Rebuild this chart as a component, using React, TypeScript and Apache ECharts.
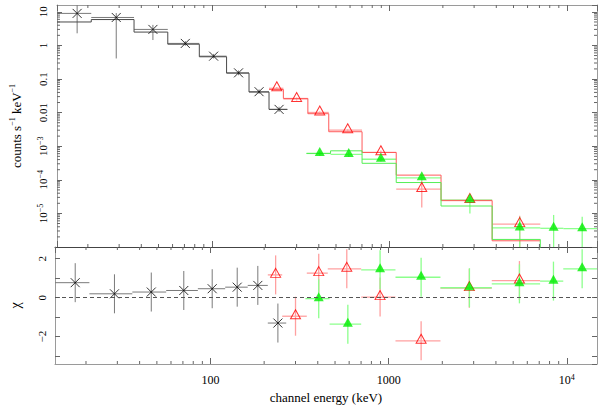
import React, { useEffect, useRef } from 'react';
import * as echarts from 'echarts';

const X_MIN = 13.4;
const X_MAX = 14770;
const Y_MIN = 1e-6;
const Y_MAX = 16;
const CHI_MIN = -3.4;
const CHI_MAX = 2.6;

// dataset 1 (black crosses)
const blackEdges = [13.4, 20.9, 36.4, 56.4, 84.9, 120.9, 161.8, 209.7, 266];
const blackE = [17.4, 28.9, 46.5, 70.8, 102.2, 141.2, 184.3, 238.9];
const blackY = [9.0, 6.8, 3.0, 1.15, 0.48, 0.153, 0.042, 0.0125];
const blackYLo = [2.3, 0.41, 1.45, 0.98, 0.41, 0.13, 0.036, 0.0105];
const blackYHi = [20, 9.2, 4.1, 1.35, 0.56, 0.18, 0.049, 0.015];
const blackModel = [5.0, 5.9, 2.5, 1.09, 0.46, 0.15, 0.041, 0.0125];
const blackChi = [0.77, 0.2, 0.29, 0.37, 0.46, 0.54, 0.63, -1.3];

// dataset 2 (red open triangles)
const redEdges = [209.7, 252.6, 347.1, 455.1, 701, 1092, 1953, 3790, 7079];
const redE = [232, 300, 405, 582, 895, 1521, 2837, 5420];
const redY = [0.053, 0.0255, 0.0101, 0.003, 6.6e-4, 5.3e-5, 2.5e-5, 4.8e-6];
const redYLo = [0.048, 0.023, 0.0093, 0.0028, 5.8e-4, 1.5e-5, 2.3e-5, 8e-7];
const redYHi = [0.058, 0.028, 0.0109, 0.0032, 7.4e-4, 9e-5, 2.7e-5, 8.5e-6];
const redModel = [0.049, 0.0265, 0.0093, 0.0027, 6.5e-4, 1.38e-4, 2.4e-5, 1.53e-6];
const redChi = [1.17, -0.95, 1.26, 1.48, 0.03, -2.21, 0.49, 0.88];

// dataset 3 (green filled triangles)
const greenEdges = [341, 466, 701, 1092, 1953, 3790, 7079, 9550, 15500];
const greenE = [405, 590, 895, 1521, 2840, 5420, 8414, 12190];
const greenY = [6.1e-4, 5.7e-4, 4.1e-4, 1.15e-4, 2.5e-5, 3.7e-6, 3.6e-6, 3.5e-6];
const greenYLo = [5.2e-4, 4.8e-4, 3.5e-4, 9.0e-5, 1.0e-5, 1e-7, 1e-7, 1e-7];
const greenYHi = [7.0e-4, 6.6e-4, 4.8e-4, 1.4e-4, 3.2e-5, 8e-6, 9e-6, 8e-6];
const greenModel = [6.1e-4, 7.3e-4, 3.1e-4, 8.3e-5, 1.66e-5, 1.68e-6, 3e-7, 3e-7];
const greenChi = [-0.05, -1.36, 1.43, 1.05, 0.51, 0.71, 0.85, 1.48];

// minor tick values for the log axes
const xMinorTicks = [10, 100, 1000, 10000]
  .flatMap((d) => [2, 3, 4, 5, 6, 7, 8, 9].map((k) => k * d))
  .filter((v) => v > X_MIN && v < X_MAX);
const yMinorTicks = [1e-6, 1e-5, 1e-4, 1e-3, 1e-2, 1e-1, 1, 10]
  .flatMap((d) => [2, 3, 4, 5, 6, 7, 8, 9].map((k) => k * d))
  .filter((v) => v > Y_MIN && v < Y_MAX);

const FONT = '"Liberation Serif", "Times New Roman", "DejaVu Serif", serif';
const FRAME = '#9a9a9a';
const SEP = '#444';
const TICK = '#666';

const C = {
  black: { marker: '#000', err: '#7a7a7a', model: '#4a4a4a' },
  red: { marker: '#ff0000', err: '#ffa0a0', model: '#ff5a5a' },
  green: { marker: '#00ee00', err: '#8cff8c', model: '#55ee55' },
};

function logLabel(v: number, isY: boolean): string {
  const l = Math.log10(v);
  const e = Math.round(l);
  if (Math.abs(l - e) > 1e-6) return '';
  if (isY && e <= -6) return '';
  const plain: Record<number, string> = isY
    ? { 1: '10', 0: '1', [-1]: '0.1', [-2]: '0.01' }
    : { 2: '100', 3: '1000' };
  if (plain[e] !== undefined) return plain[e];
  if (!isY && e < 2) return '';
  return '10{s|' + (e < 0 ? '\u2212' + -e : String(e)) + '}';
}

function errData(E: number[], Y: number[], lo: number[], hi: number[], edges: number[]) {
  return E.map((e, i) => [e, Y[i], edges[i], edges[i + 1], lo[i], hi[i]]);
}
function chiData(E: number[], chi: number[], edges: number[]) {
  return E.map((e, i) => [e, chi[i], edges[i], edges[i + 1], chi[i] - 1, chi[i] + 1]);
}
function stepData(edges: number[], m: number[]) {
  const out: number[][] = [];
  m.forEach((v, i) => {
    out.push([edges[i], v]);
    out.push([edges[i + 1], v]);
  });
  return out;
}

function errSeries(data: number[][], color: string, xi: number, yi: number, width = 1) {
  return {
    type: 'custom',
    xAxisIndex: xi,
    yAxisIndex: yi,
    clip: true,
    silent: true,
    z: 2,
    data,
    renderItem: (params: any, api: any) => {
      const c = api.coord([api.value(0), api.value(1)]);
      const l = api.coord([api.value(2), api.value(1)]);
      const r = api.coord([api.value(3), api.value(1)]);
      const lo = api.coord([api.value(0), api.value(4)]);
      const hi = api.coord([api.value(0), api.value(5)]);
      const style = { stroke: color, lineWidth: width, fill: null };
      return {
        type: 'group',
        children: [
          { type: 'line', shape: { x1: l[0], y1: c[1], x2: r[0], y2: c[1] }, style },
          { type: 'line', shape: { x1: c[0], y1: lo[1], x2: c[0], y2: hi[1] }, style },
        ],
      };
    },
  };
}

function markerSeries(data: number[][], kind: 'black' | 'red' | 'green', xi: number, yi: number, extra: any = {}) {
  const base: any = { type: 'scatter', xAxisIndex: xi, yAxisIndex: yi, z: 4, silent: true, data, ...extra };
  if (kind === 'black') {
    base.symbol = 'path://M0 0L10 10M10 0L0 10';
    base.symbolSize = 9;
    base.itemStyle = { color: '#000', borderColor: '#000', borderWidth: 1 };
  } else if (kind === 'red') {
    base.symbol = 'triangle';
    base.symbolSize = [10, 9];
    base.symbolOffset = [0, -2];
    base.itemStyle = { color: 'rgba(255,255,255,0)', borderColor: C.red.marker, borderWidth: 1 };
  } else {
    base.symbol = 'triangle';
    base.symbolSize = [10, 9];
    base.symbolOffset = [0, -2];
    base.itemStyle = { color: C.green.marker, borderWidth: 0 };
  }
  return base;
}

function modelSeries(edges: number[], m: number[], color: string) {
  return {
    type: 'line',
    xAxisIndex: 0,
    yAxisIndex: 0,
    showSymbol: false,
    symbol: 'none',
    silent: true,
    z: 2,
    clip: true,
    lineStyle: { color, width: 1 },
    data: stepData(edges, m),
  };
}

function xMinorSeries(xi: number, yi: number, yRef: number) {
  return {
    type: 'custom',
    xAxisIndex: xi,
    yAxisIndex: yi,
    silent: true,
    z: 5,
    data: xMinorTicks.map((v) => [v, yRef]),
    renderItem: (params: any, api: any) => {
      const cs = params.coordSys;
      const x = api.coord([api.value(0), yRef])[0];
      const top = cs.y;
      const bot = cs.y + cs.height;
      const style = { stroke: TICK, lineWidth: 1 };
      return {
        type: 'group',
        children: [
          { type: 'line', shape: { x1: x, y1: bot, x2: x, y2: bot - 3 }, style },
          { type: 'line', shape: { x1: x, y1: top, x2: x, y2: top + 3 }, style },
        ],
      };
    },
  };
}

function yMinorSeries() {
  return {
    type: 'custom',
    xAxisIndex: 0,
    yAxisIndex: 0,
    silent: true,
    z: 5,
    data: yMinorTicks.map((v) => [X_MIN, v]),
    renderItem: (params: any, api: any) => {
      const cs = params.coordSys;
      const y = api.coord([X_MIN, api.value(1)])[1];
      const left = cs.x;
      const right = cs.x + cs.width;
      const style = { stroke: TICK, lineWidth: 1 };
      return {
        type: 'group',
        children: [
          { type: 'line', shape: { x1: left, y1: y, x2: left + 3, y2: y }, style },
          { type: 'line', shape: { x1: right, y1: y, x2: right - 3, y2: y }, style },
        ],
      };
    },
  };
}

const supRich = { s: { fontSize: 8, verticalAlign: 'top', lineHeight: 8, fontFamily: FONT, color: '#000' } };

function xAxisDef(gridIndex: number, position: 'top' | 'bottom', lineColor: string, labels: boolean) {
  return {
    type: 'log',
    gridIndex,
    position,
    min: X_MIN,
    max: X_MAX,
    logBase: 10,
    splitLine: { show: false },
    axisLine: { show: true, onZero: false, lineStyle: { color: lineColor, width: 1 } },
    axisTick: { show: true, inside: true, length: 6, lineStyle: { color: TICK } },
    axisLabel: labels
      ? {
          show: true,
          margin: 9,
          fontFamily: FONT,
          fontSize: 12,
          color: '#000',
          lineHeight: 14,
          formatter: (v: number) => logLabel(v, false),
          rich: supRich,
          showMinLabel: false,
          showMaxLabel: false,
        }
      : { show: false },
    name: labels ? 'channel energy (keV)' : '',
    nameLocation: 'middle',
    nameGap: 27,
    nameTextStyle: { fontFamily: FONT, fontSize: 13, color: '#000' },
  };
}

const option: any = {
  animation: false,
  backgroundColor: '#fff',
  grid: [
    { left: 55, top: 5, width: 542, height: 242, containLabel: false },
    { left: 55, top: 247, width: 542, height: 117, containLabel: false },
  ],
  xAxis: [
    xAxisDef(0, 'bottom', SEP, false),
    xAxisDef(0, 'top', FRAME, false),
    xAxisDef(1, 'bottom', FRAME, true),
    xAxisDef(1, 'top', SEP, false),
  ],
  yAxis: [
    {
      type: 'log',
      gridIndex: 0,
      position: 'left',
      min: Y_MIN,
      max: Y_MAX,
      logBase: 10,
      splitLine: { show: false },
      axisLine: { show: true, onZero: false, lineStyle: { color: FRAME } },
      axisTick: { show: true, inside: true, length: 5, lineStyle: { color: TICK } },
      axisLabel: {
        show: true,
        rotate: 90,
        margin: 8,
        fontFamily: FONT,
        fontSize: 11,
        color: '#000',
        lineHeight: 13,
        formatter: (v: number) => logLabel(v, true),
        rich: supRich,
        showMinLabel: false,
        showMaxLabel: false,
      },
      name: 'counts s{s|\u22121} keV{s|\u22121}',
      nameLocation: 'middle',
      nameRotate: 90,
      nameGap: 33,
      nameTextStyle: { fontFamily: FONT, fontSize: 13, color: '#000', lineHeight: 16, rich: supRich },
    },
    {
      type: 'log',
      gridIndex: 0,
      position: 'right',
      min: Y_MIN,
      max: Y_MAX,
      logBase: 10,
      splitLine: { show: false },
      axisLine: { show: true, onZero: false, lineStyle: { color: FRAME } },
      axisTick: { show: true, inside: true, length: 5, lineStyle: { color: TICK } },
      axisLabel: { show: false },
    },
    {
      type: 'value',
      gridIndex: 1,
      position: 'left',
      min: CHI_MIN,
      max: CHI_MAX,
      splitNumber: 6,
      splitLine: { show: false },
      axisLine: { show: true, onZero: false, lineStyle: { color: FRAME } },
      axisTick: { show: true, inside: true, length: 5, lineStyle: { color: TICK } },
      axisLabel: {
        show: true,
        rotate: 90,
        margin: 8,
        fontFamily: FONT,
        fontSize: 11,
        color: '#000',
        formatter: (v: number) => (Math.abs(v - 2) < 1e-6 ? '2' : Math.abs(v) < 1e-6 ? '0' : Math.abs(v + 2) < 1e-6 ? '\u22122' : ''),
        showMinLabel: false,
        showMaxLabel: false,
      },
      name: '\u03c7',
      nameLocation: 'middle',
      nameRotate: 90,
      nameGap: 33,
      nameTextStyle: { fontFamily: FONT, fontSize: 14, color: '#000' },
    },
    {
      type: 'value',
      gridIndex: 1,
      position: 'right',
      min: CHI_MIN,
      max: CHI_MAX,
      splitNumber: 6,
      splitLine: { show: false },
      axisLine: { show: true, onZero: false, lineStyle: { color: FRAME } },
      axisTick: { show: true, inside: true, length: 5, lineStyle: { color: TICK } },
      axisLabel: { show: false },
    },
  ],
  series: [
    xMinorSeries(0, 0, Y_MIN),
    xMinorSeries(2, 2, 0),
    yMinorSeries(),
    // models
    modelSeries(blackEdges, blackModel, C.black.model),
    modelSeries(redEdges, redModel, C.red.model),
    modelSeries(greenEdges, greenModel, C.green.model),
    // top error bars
    errSeries(errData(blackE, blackY, blackYLo, blackYHi, blackEdges), C.black.err, 0, 0),
    errSeries(errData(redE, redY, redYLo, redYHi, redEdges), C.red.err, 0, 0, 1.3),
    errSeries(errData(greenE, greenY, greenYLo, greenYHi, greenEdges), C.green.err, 0, 0, 1.3),
    // top markers
    markerSeries(blackE.map((e, i) => [e, blackY[i]]), 'black', 0, 0),
    markerSeries(redE.map((e, i) => [e, redY[i]]), 'red', 0, 0),
    markerSeries(greenE.map((e, i) => [e, greenY[i]]), 'green', 0, 0),
    // residual error bars
    errSeries(chiData(blackE, blackChi, blackEdges), C.black.err, 2, 2),
    errSeries(chiData(redE, redChi, redEdges), C.red.err, 2, 2, 1.3),
    errSeries(chiData(greenE, greenChi, greenEdges), C.green.err, 2, 2, 1.3),
    // residual markers
    markerSeries(blackE.map((e, i) => [e, blackChi[i]]), 'black', 2, 2, {
      markLine: {
        silent: true,
        symbol: 'none',
        label: { show: false },
        lineStyle: { type: [4, 3], color: '#555', width: 1 },
        data: [{ yAxis: 0 }],
      },
    }),
    markerSeries(redE.map((e, i) => [e, redChi[i]]), 'red', 2, 2),
    markerSeries(greenE.map((e, i) => [e, greenChi[i]]), 'green', 2, 2),
  ],
};

export default function App() {
  const ref = useRef<HTMLDivElement>(null);
  useEffect(() => {
    const chart = echarts.init(ref.current as HTMLDivElement, null, { renderer: 'svg' });
    chart.setOption(option);
    return () => chart.dispose();
  }, []);
  return (
    <div
      ref={ref}
      style={{ position: 'fixed', left: 0, top: 0, width: 598, height: 406, background: '#fff' }}
    />
  );
}
